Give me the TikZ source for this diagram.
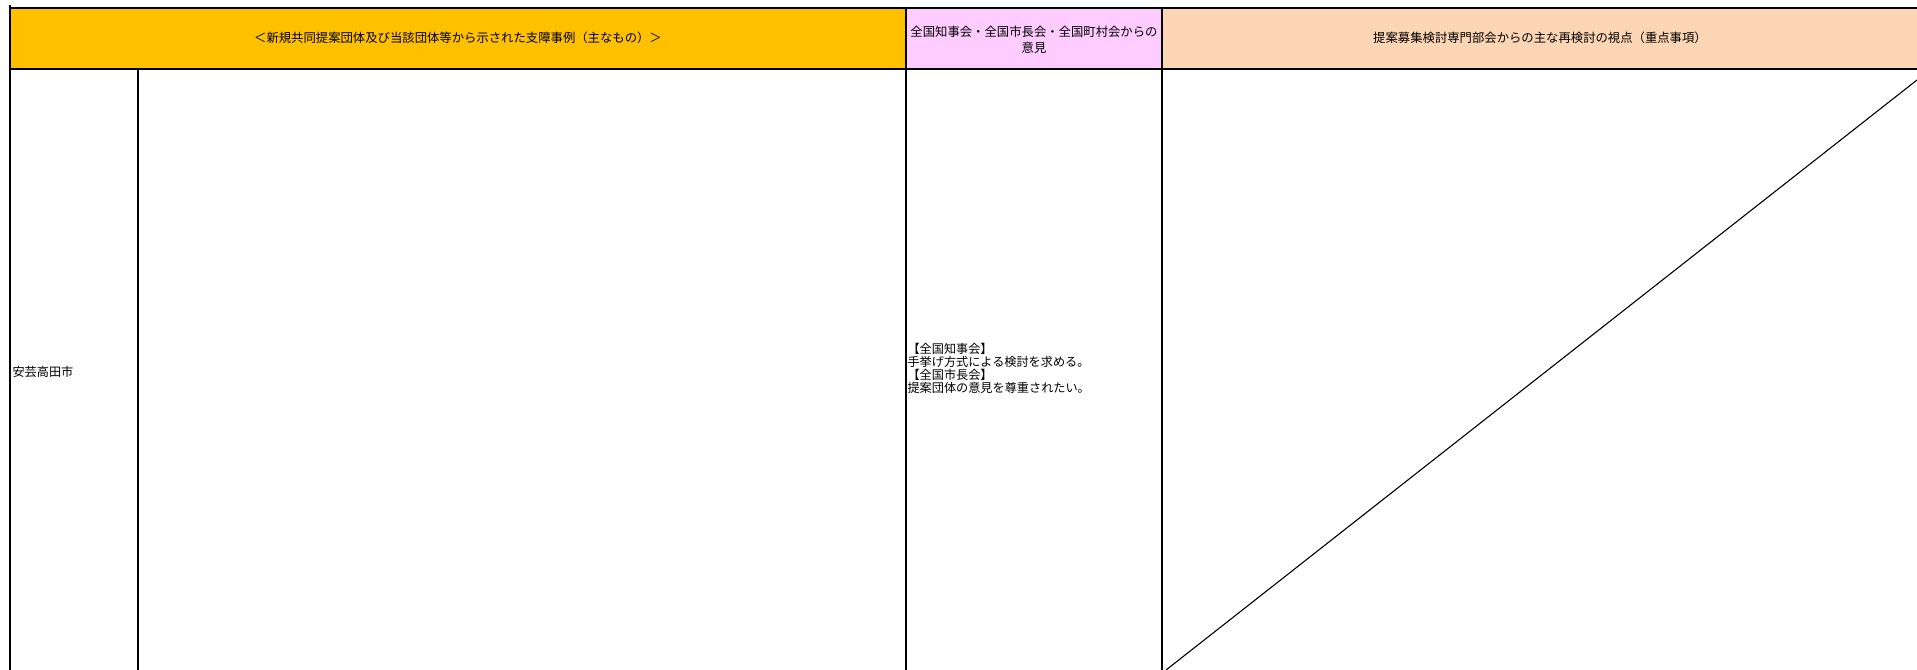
\documentclass[tikz,border=0pt]{standalone}
\usepackage{fontspec}
\setmainfont{Noto Sans CJK JP}
\definecolor{hdyellow}{RGB}{255,192,0}
\definecolor{hdpink}{RGB}{255,204,255}
\definecolor{hdpeach}{RGB}{252,213,180}
\begin{document}
\begin{tikzpicture}[x=1bp,y=-1bp,line width=1.1bp,
    cell/.style={inner sep=0pt,font=\fontsize{12.2}{12.9}\selectfont},
    headcell/.style={cell,align=center,font=\fontsize{12.4}{16}\selectfont}]
    \useasboundingbox (0,0) rectangle (1917,670);
    % Header fills
    \fill[hdyellow] (10,8) rectangle (906,69);
    \fill[hdpink] (906,8) rectangle (1162,69);
    \fill[hdpeach] (1162,8) rectangle (1917,69);
    % Grid
    \draw (10,8) -- (1917,8);
    \draw (10,69) -- (1917,69);
    \draw (10,5) -- (10,670);
    \draw (138,69) -- (138,670);
    \draw (906,8) -- (906,670);
    \draw (1162,8) -- (1162,670);
    % Diagonal
    \coordinate (diagtop) at (1917,80);
    \coordinate (diagbot) at (1166,670);
    \draw (diagbot) -- (diagtop);
    % Labels
    \node[headcell] (cases) at (458,38) {＜新規共同提案団体及び当該団体等から示された支障事例（主なもの）＞};
    \node[headcell] (opinion) at (1034,40) {全国知事会・全国市長会・全国町村会からの\\意見};
    \node[headcell] (viewpoint) at (1540,38) {提案募集検討専門部会からの主な再検討の視点（重点事項）};
    \node[cell,anchor=west] (city) at (12,372) {安芸高田市};
    \node[cell,anchor=north west,align=left] (reply) at (907,343)
        {【全国知事会】\\手挙げ方式による検討を求める。\\【全国市長会】\\提案団体の意見を尊重されたい。};
\end{tikzpicture}
\end{document}
